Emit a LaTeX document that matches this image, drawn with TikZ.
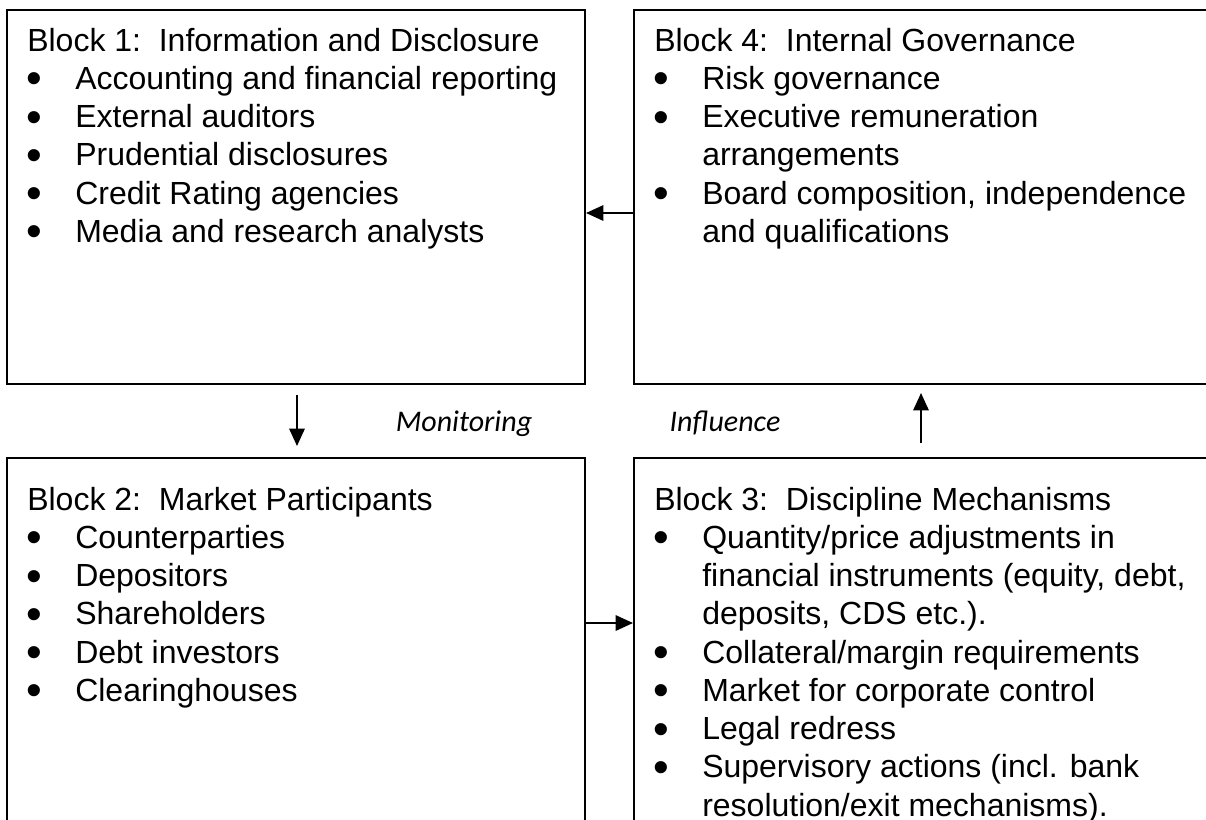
\documentclass[tikz,border=0pt]{standalone}
\usepackage{fontspec}
\setmainfont{Liberation Sans}
\newfontfamily\notefont{Carlito}
\usetikzlibrary{arrows.meta,fit}
\tikzset{
  block/.style={draw=black,line width=1.5pt,inner sep=0pt},
  blocktext/.style={anchor=base west,inner sep=0pt,font=\fontsize{24}{28.7}\selectfont},
  flow/.style={line width=1.5pt,-{Triangle[length=13pt,width=11.5pt]}},
  note/.style={anchor=base,inner sep=0pt,font=\notefont\itshape\fontsize{22.5}{26}\selectfont}
}
\newcommand{\bul}{\makebox[36pt][l]{\hspace{-0.6pt}\smash{\raisebox{-3.4pt}{\fontsize{33.6}{33.6}\selectfont\textbullet}}}}
\newcommand{\ind}{\hspace*{36pt}}
\begin{document}
\begin{tikzpicture}[x=0.75pt,y=-0.75pt]
 \useasboundingbox (0,0) rectangle (1206,819);
 \clip (0,0) rectangle (1206,819);
 % the four blocks
 \node[block,fit={(7,10)(585,384)}] (b1) {};
 \node[block,fit={(634,10)(1230,384)}] (b4) {};
 \node[block,fit={(7,458)(585,840)}] (b2) {};
 \node[block,fit={(634,458)(1230,840)}] (b3) {};
 % block texts
 \node[blocktext] (t1) at (27,51) {\begin{tabular}[t]{@{}l@{}}
  Block 1:\ \ Information and Disclosure\\
  \bul Accounting and financial reporting\\
  \bul External auditors\\
  \bul Prudential disclosures\\
  \bul Credit Rating agencies\\
  \bul Media and research analysts
 \end{tabular}};
 \node[blocktext] (t4) at (654,51) {\begin{tabular}[t]{@{}l@{}}
  Block 4:\ \ Internal Governance\\
  \bul Risk governance\\
  \bul Executive remuneration\\
  \ind arrangements\\
  \bul Board composition, independence\\
  \ind and qualifications
 \end{tabular}};
 \node[blocktext] (t2) at (27,510) {\begin{tabular}[t]{@{}l@{}}
  Block 2:\ \ Market Participants\\
  \bul Counterparties\\
  \bul Depositors\\
  \bul Shareholders\\
  \bul Debt investors\\
  \bul Clearinghouses
 \end{tabular}};
 \node[blocktext] (t3) at (654,510) {\begin{tabular}[t]{@{}l@{}}
  Block 3:\ \ Discipline Mechanisms\\
  \bul Quantity/price adjustments in\\
  \ind financial instruments (equity, debt,\\
  \ind deposits, CDS etc.).\\
  \bul Collateral/margin requirements\\
  \bul Market for corporate control\\
  \bul Legal redress\\
  \bul Supervisory actions (incl. bank\\
  \ind resolution/exit mechanisms).
 \end{tabular}};
 % labels between the rows
 \node[note] (mon) at (464,431) {Monitoring};
 \node[note] (inf) at (725,431) {Influence};
 % arrows
 \coordinate (m1) at (297,395);
 \coordinate (m2) at (297,446);
 \coordinate (i1) at (921,443);
 \coordinate (i2) at (921,393);
 \draw[flow] (b4.west |- 0,213) -- (b1.east |- 0,213);
 \draw[flow] (b2.east |- 0,623) -- (b3.west |- 0,623);
 \draw[flow] (m1) -- (m2);
 \draw[flow] (i1) -- (i2);
\end{tikzpicture}
\end{document}
